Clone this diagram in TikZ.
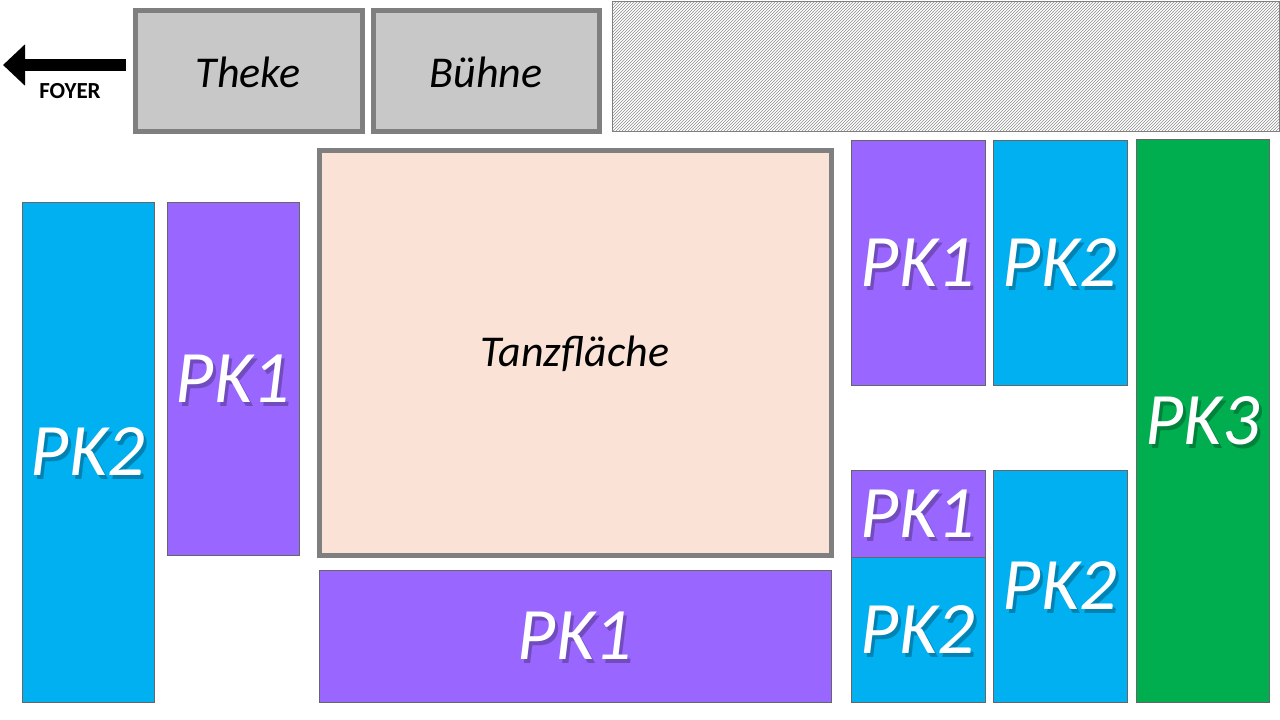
\documentclass[tikz,border=0pt]{standalone}
\usepackage{fontspec}
\setmainfont{Carlito}
\usetikzlibrary{patterns,arrows.meta}
\definecolor{pkblue}{HTML}{00B0F0}
\definecolor{pkpurple}{HTML}{9966FF}
\definecolor{pkgreen}{HTML}{00AE4F}
\definecolor{tanz}{HTML}{FAE3D6}
\definecolor{boxgray}{HTML}{C8C8C8}
\definecolor{edgegray}{HTML}{7F7F7F}
\begin{document}
\begin{tikzpicture}[x=1pt,y=-1pt,
  pk/.style={draw=black!60,line width=0.5pt},
  grey/.style={draw=edgegray,line width=5pt,fill=boxgray},
  lbl/.style={font=\itshape\fontsize{44}{44}\selectfont,text=black},
  pklbl/.style={font=\itshape\fontsize{74}{74}\selectfont,text=white}]
\useasboundingbox (0,0) rectangle (1280,720);
\newcommand\pkbox[6]{%
  \fill[pk,fill=#5] (#1,#2) rectangle (#3,#4);
  \node[pklbl,text=black,opacity=0.25] at ({(#1+#3)/2+3},{(#2+#4)/2+4}) {#6};
  \node[pklbl] (#6#1#2) at ({(#1+#3)/2},{(#2+#4)/2}) {#6};}
\draw[grey] (135,10) rectangle (362,131);
\node[lbl] (theke) at (248,72) {Theke};
\draw[grey] (373,10) rectangle (599,131);
\node[lbl] (buehne) at (486,72) {Bühne};
\draw[draw=edgegray,line width=0.6pt,pattern=north east lines,pattern color=black!45] (612,1) rectangle (1279,131);
\draw[grey,fill=tanz] (319,150) rectangle (831,555);
\node[lbl] (tanz) at (575,354) {Tanzfläche};
\draw[draw=black,line width=12pt,-{Triangle[length=22pt,width=40pt]}] (126,65) -- (3,65);
\node[font=\bfseries\fontsize{23}{23}\selectfont] (foyer) at (70,91) {FOYER};
\pkbox{22}{202}{154}{702}{pkblue}{PK2}
\pkbox{167}{202}{299}{555}{pkpurple}{PK1}
\pkbox{319}{570}{831}{702}{pkpurple}{PK1}
\pkbox{851}{140}{985}{385}{pkpurple}{PK1}
\pkbox{993}{140}{1127}{385}{pkblue}{PK2}
\pkbox{1136}{139}{1269}{702}{pkgreen}{PK3}
\pkbox{851}{470}{985}{557}{pkpurple}{PK1}
\pkbox{851}{557}{985}{702}{pkblue}{PK2}
\pkbox{993}{470}{1127}{702}{pkblue}{PK2}
\end{tikzpicture}
\end{document}
